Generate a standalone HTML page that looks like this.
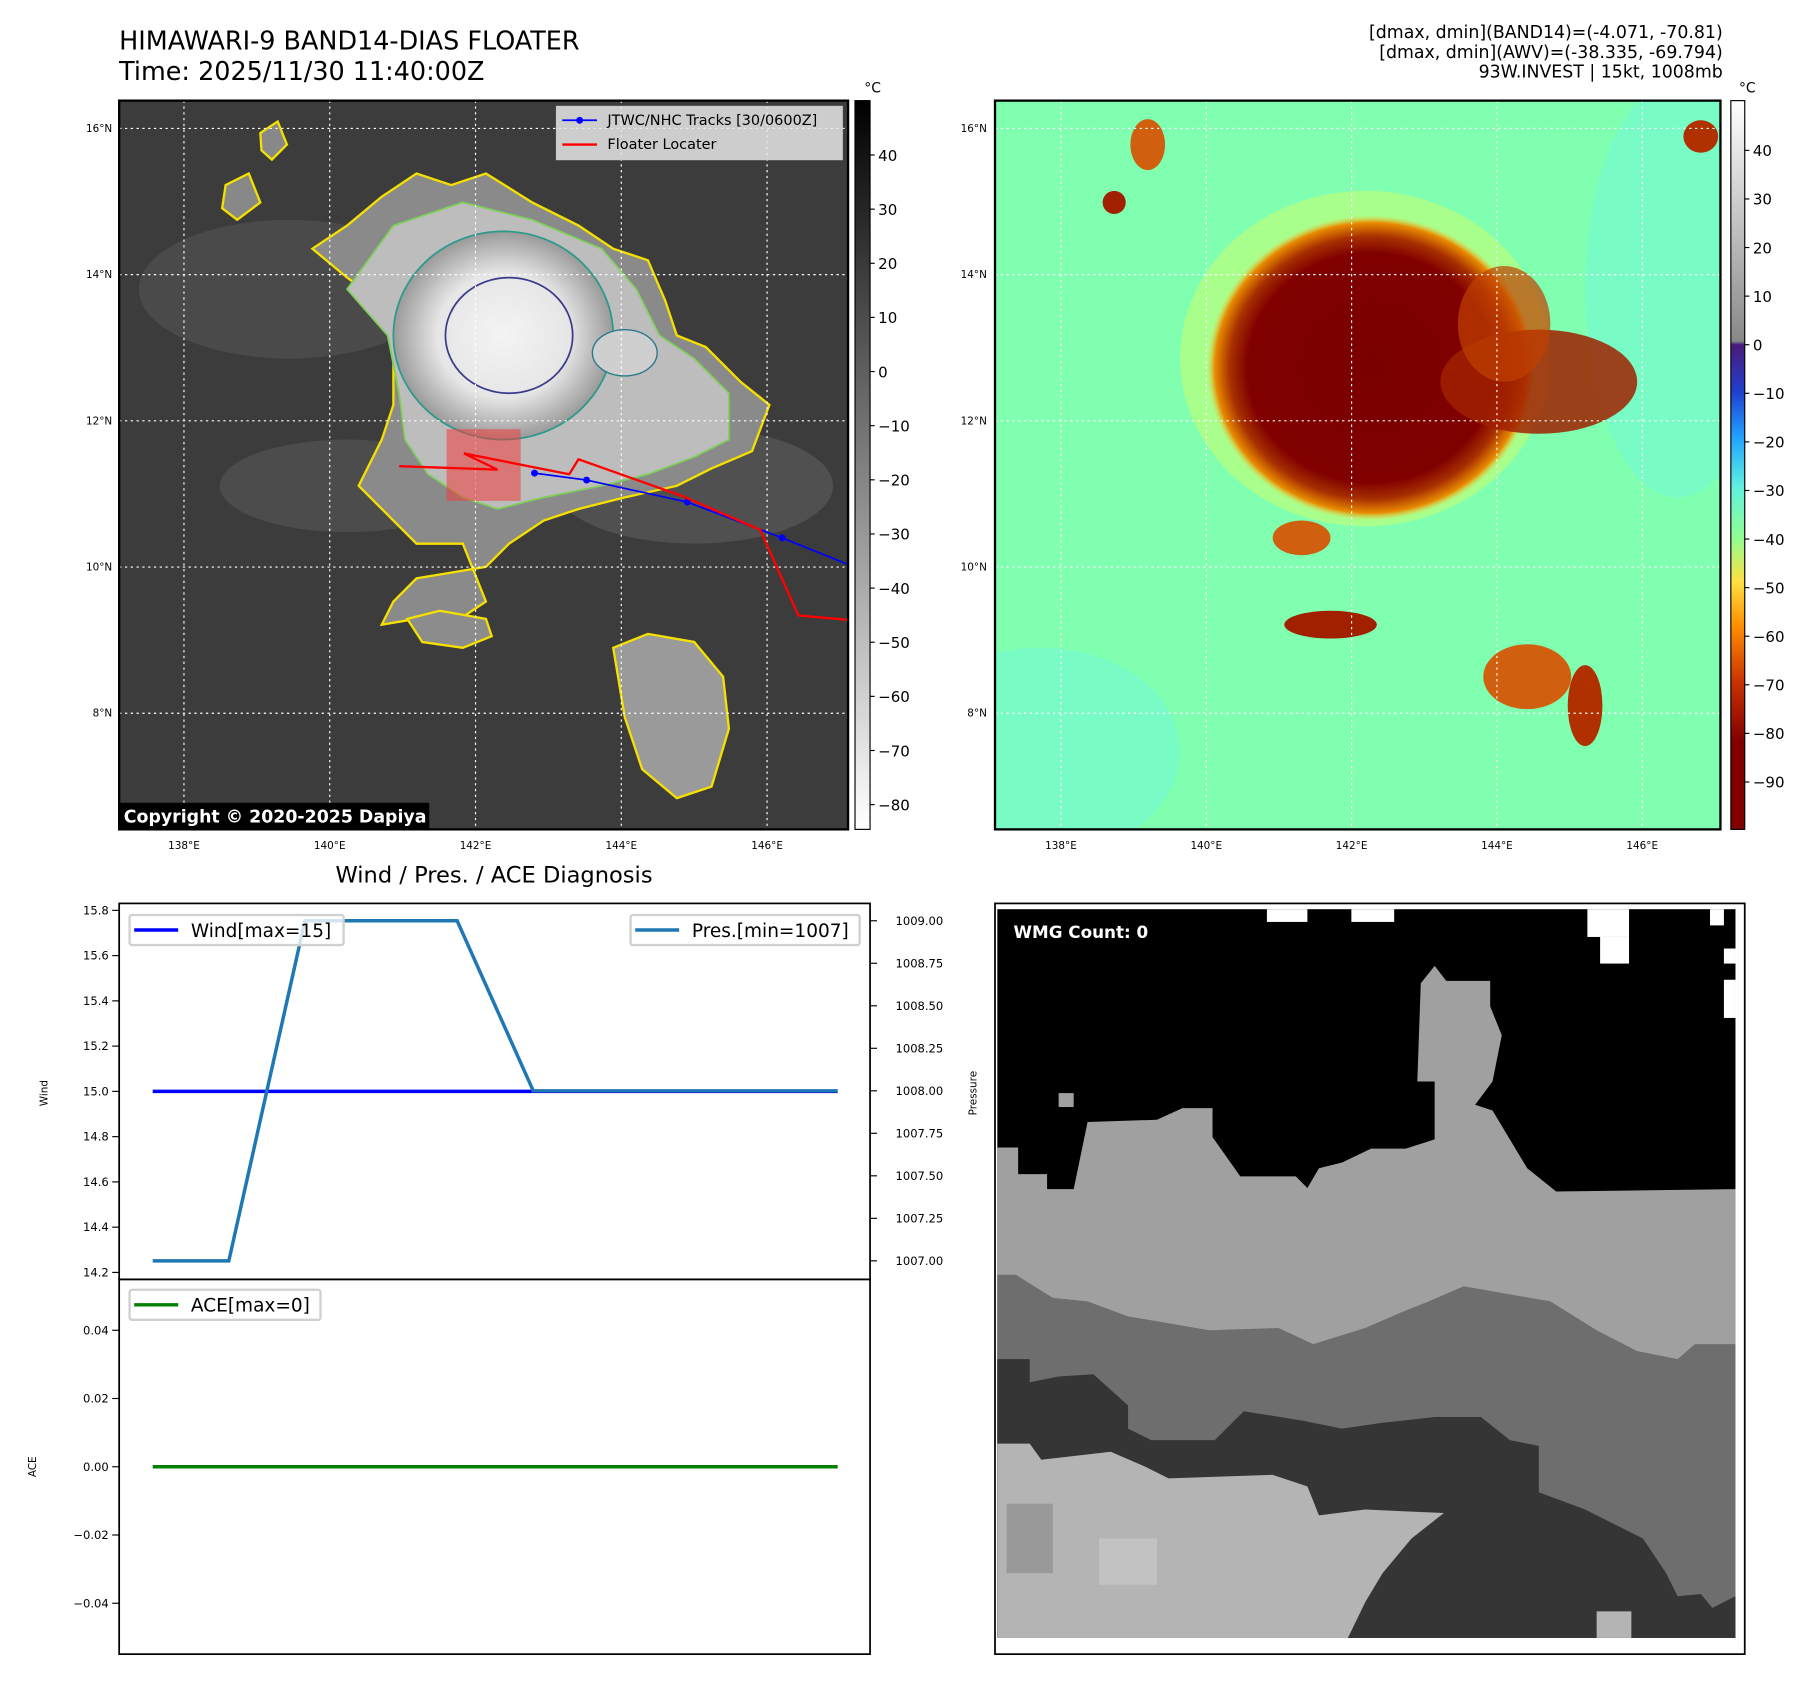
<!DOCTYPE html>
<html><head><meta charset="utf-8"><style>
html,body{margin:0;padding:0;background:#fff}
svg{display:block;font-family:"DejaVu Sans","Liberation Sans",sans-serif}
</style></head><body>
<svg id="fig" width="1813" height="1690" viewBox="0 0 1567 1461" preserveAspectRatio="none" xmlns="http://www.w3.org/2000/svg">
<defs>
<radialGradient id="core" cx="0.5" cy="0.5" r="0.5"><stop offset="0" stop-color="#f4f4f4"/><stop offset="0.6" stop-color="#e6e6e6"/><stop offset="1" stop-color="#9a9a9a"/></radialGradient>
<radialGradient id="redcore" cx="0.5" cy="0.5" r="0.5"><stop offset="0" stop-color="#7a0000"/><stop offset="0.75" stop-color="#800000"/><stop offset="0.86" stop-color="#a83000"/><stop offset="0.95" stop-color="#e88a00"/><stop offset="1" stop-color="#f0d040" stop-opacity="0"/></radialGradient>
<linearGradient id="cbGray" x1="0" y1="0" x2="0" y2="1"><stop offset="0" stop-color="#000"/><stop offset="1" stop-color="#fff"/></linearGradient>
<linearGradient id="cbAwv" x1="0" y1="0" x2="0" y2="1">
<stop offset="0" stop-color="#ffffff"/><stop offset="0.33" stop-color="#888"/><stop offset="0.335" stop-color="#4a1a7a"/><stop offset="0.4" stop-color="#2040d0"/><stop offset="0.46" stop-color="#20a0ff"/><stop offset="0.53" stop-color="#60f0e0"/><stop offset="0.6" stop-color="#90ff90"/><stop offset="0.66" stop-color="#ffe040"/><stop offset="0.72" stop-color="#ff9000"/><stop offset="0.8" stop-color="#c83000"/><stop offset="0.88" stop-color="#800000"/><stop offset="1" stop-color="#800000"/></linearGradient>
<clipPath id="clipL"><rect x="103" y="87" width="630" height="630"/></clipPath>
<clipPath id="clipR"><rect x="860" y="87" width="627" height="630"/></clipPath>
</defs>

<text x="103" y="43" font-size="22">HIMAWARI-9 BAND14-DIAS FLOATER</text>
<text x="103" y="69" font-size="22">Time: 2025/11/30 11:40:00Z</text>
<g font-size="15" text-anchor="end">
<text x="1489" y="33">[dmax, dmin](BAND14)=(-4.071, -70.81)</text>
<text x="1489" y="50">[dmax, dmin](AWV)=(-38.335, -69.794)</text>
<text x="1489" y="67">93W.INVEST | 15kt, 1008mb</text>
</g>

<!-- Left map -->
<g clip-path="url(#clipL)">
<rect x="103" y="87" width="630" height="630" fill="#3c3c3c"/>
<ellipse cx="250" cy="250" rx="130" ry="60" fill="#4a4a4a"/>
<ellipse cx="600" cy="420" rx="120" ry="50" fill="#505050"/>
<ellipse cx="300" cy="420" rx="110" ry="40" fill="#4c4c4c"/>
<polygon points="270,215 300,195 330,170 360,150 390,160 420,150 460,175 500,195 530,215 560,225 575,260 585,290 610,300 640,330 665,350 650,390 615,405 585,420 540,430 500,440 470,450 440,470 420,490 390,495 360,500 340,520 330,540 360,535 390,540 420,520 400,470 360,470 340,450 310,420 330,380 340,350 340,310 335,265 300,240" fill="#8a8a8a" stroke="#f5e000" stroke-width="2"/>
<polygon points="300,250 340,195 400,175 460,190 520,215 550,250 570,290 600,310 630,340 630,380 600,395 560,410 520,420 470,430 430,440 400,430 370,410 350,380 345,340 335,290" fill="#bdbdbd" stroke="#7fd05a" stroke-width="1.5"/>
<ellipse cx="435" cy="290" rx="95" ry="90" fill="url(#core)" stroke="#2a9a8a" stroke-width="1.5"/>
<ellipse cx="440" cy="290" rx="55" ry="50" fill="none" stroke="#3b3b8a" stroke-width="1.5"/>
<ellipse cx="540" cy="305" rx="28" ry="20" fill="#cfcfcf" stroke="#2a7a8a" stroke-width="1.2"/>
<polygon points="530,560 560,548 600,555 625,585 630,630 615,680 585,690 555,665 540,620" fill="#9a9a9a" stroke="#f5e000" stroke-width="2"/>
<polygon points="352,535 380,528 420,535 425,550 400,560 365,555" fill="#8c8c8c" stroke="#f5e000" stroke-width="2"/>
<polygon points="195,160 215,150 225,175 205,190 192,180" fill="#888" stroke="#f5e000" stroke-width="2"/>
<polygon points="225,115 240,105 248,125 235,138 226,130" fill="#888" stroke="#f5e000" stroke-width="2"/>
<g stroke="#fff" stroke-width="1" stroke-dasharray="2,3" id="gridL"></g>
<rect x="386" y="371" width="64" height="62" fill="rgba(240,60,60,0.55)"/>
<polyline points="462,409 507,415 594,434 676,465 733,488" fill="none" stroke="#0000ff" stroke-width="1.5"/>
<g fill="#0000ff"><circle cx="462" cy="409" r="3"/><circle cx="507" cy="415" r="3"/><circle cx="594" cy="434" r="3"/><circle cx="676" cy="465" r="3"/></g>
<polyline points="345,403 430,406 401,392 492,410 500,397 590,429 657,458 690,532 734,536" fill="none" stroke="#ff0000" stroke-width="2"/>
<rect x="103" y="694" width="268" height="23" fill="#000"/>
<text x="107" y="711" font-size="15" font-weight="bold" fill="#fff">Copyright © 2020-2025 Dapiya</text>
</g>
<rect x="103" y="87" width="630" height="630" fill="none" stroke="#000" stroke-width="2"/>
<g>
<rect x="481" y="92" width="247" height="46" fill="#e6e6e6" fill-opacity="0.85" stroke="#ccc"/>
<line x1="486" y1="104" x2="516" y2="104" stroke="#0000ff" stroke-width="1.5"/><circle cx="501" cy="104" r="3" fill="#0000ff"/>
<text x="525" y="108" font-size="12.5">JTWC/NHC Tracks [30/0600Z]</text>
<line x1="486" y1="125" x2="516" y2="125" stroke="#ff0000" stroke-width="2"/>
<text x="525" y="129" font-size="12.5">Floater Locater</text>
</g>
<rect x="739" y="87" width="13" height="630" fill="url(#cbGray)" stroke="#000"/>
<text x="747" y="80" font-size="12">°C</text>
<g id="cbLticks" font-size="13"></g>

<!-- Right map -->
<g clip-path="url(#clipR)">
<rect x="860" y="87" width="627" height="630" fill="#80ffb0"/>
<ellipse cx="1450" cy="250" rx="80" ry="180" fill="#70f8d8" opacity="0.5"/>
<ellipse cx="900" cy="650" rx="120" ry="90" fill="#70f8d8" opacity="0.5"/>
<ellipse cx="1180" cy="310" rx="160" ry="145" fill="#c8ff70" opacity="0.55"/>
<ellipse cx="1185" cy="318" rx="142" ry="132" fill="url(#redcore)"/>
<ellipse cx="1330" cy="330" rx="85" ry="45" fill="#a02000" opacity="0.85"/>
<ellipse cx="1300" cy="280" rx="40" ry="50" fill="#c04000" opacity="0.7"/>
<ellipse cx="1320" cy="585" rx="38" ry="28" fill="#d06010"/>
<ellipse cx="1370" cy="610" rx="15" ry="35" fill="#b03000"/>
<ellipse cx="1150" cy="540" rx="40" ry="12" fill="#a02000"/>
<ellipse cx="1125" cy="465" rx="25" ry="15" fill="#d06010"/>
<ellipse cx="992" cy="125" rx="15" ry="22" fill="#d06010"/>
<ellipse cx="963" cy="175" rx="10" ry="10" fill="#a02000"/>
<ellipse cx="1470" cy="118" rx="15" ry="14" fill="#b03000"/>
<g stroke="#fff" stroke-width="1" stroke-dasharray="2,3" id="gridR"></g>
</g>
<rect x="860" y="87" width="627" height="630" fill="none" stroke="#000" stroke-width="2"/>
<rect x="1496" y="87" width="12" height="630" fill="url(#cbAwv)" stroke="#000"/>
<text x="1503" y="80" font-size="12">°C</text>
<g id="cbRticks" font-size="13"></g>
<g id="mapTicks" font-size="9"></g>

<!-- Diagnosis chart -->
<text x="427" y="763" font-size="19.5" text-anchor="middle">Wind / Pres. / ACE Diagnosis</text>
<g id="diag"></g>
<rect x="103" y="781" width="649" height="325" fill="none" stroke="#000" stroke-width="1.5"/>
<rect x="103" y="1106" width="649" height="324" fill="none" stroke="#000" stroke-width="1.5"/>
<text transform="translate(41,945) rotate(-90)" font-size="9" text-anchor="middle">Wind</text>
<text transform="translate(844,945) rotate(-90)" font-size="9" text-anchor="middle">Pressure</text>
<text transform="translate(31,1268) rotate(-90)" font-size="9" text-anchor="middle">ACE</text>

<!-- WMG panel -->
<g>
<rect x="860" y="781" width="648" height="649" fill="#fff"/>
<rect x="862" y="786" width="638" height="630" fill="#000"/>
<polygon fill="#a0a0a0" points="862,992 880,992 880,1015 905,1015 905,1028 928,1028 940,970 1000,968 1022,958 1048,958 1048,983 1072,1017 1120,1017 1130,1027 1140,1010 1160,1005 1185,993 1215,993 1240,985 1240,935 1225,935 1228,850 1240,835 1250,848 1288,848 1288,870 1298,895 1290,935 1275,955 1290,960 1305,985 1320,1010 1345,1030 1500,1028 1500,1416 862,1416"/>
<rect x="915" y="945" width="13" height="12" fill="#a0a0a0"/>
<polygon fill="#6e6e6e" points="862,1102 878,1102 910,1122 940,1125 975,1138 1045,1150 1105,1148 1135,1162 1180,1148 1210,1135 1235,1125 1265,1112 1340,1125 1380,1150 1415,1168 1450,1175 1465,1162 1500,1162 1500,1416 862,1416"/>
<polygon fill="#353535" points="862,1175 890,1175 890,1195 915,1190 945,1188 975,1215 975,1235 995,1245 1050,1245 1075,1220 1125,1228 1160,1235 1195,1230 1240,1225 1280,1225 1305,1245 1330,1250 1330,1290 1370,1305 1400,1320 1420,1330 1440,1360 1450,1380 1470,1378 1480,1390 1500,1380 1500,1416 862,1416"/>
<polygon fill="#b4b4b4" points="862,1248 890,1248 900,1262 960,1255 990,1268 1010,1278 1100,1275 1130,1285 1140,1310 1180,1305 1248,1308 1220,1330 1195,1360 1180,1385 1165,1416 862,1416"/>
<rect x="870" y="1300" width="40" height="60" fill="#999"/><rect x="950" y="1330" width="50" height="40" fill="#c2c2c2"/>
<rect x="1380" y="1393" width="30" height="23" fill="#b4b4b4"/>
<g fill="#fff"><rect x="1095" y="786" width="35" height="11"/><rect x="1168" y="786" width="37" height="11"/><rect x="1372" y="786" width="36" height="24"/><rect x="1383" y="810" width="25" height="23"/><rect x="1478" y="786" width="12" height="14"/><rect x="1490" y="820" width="10" height="13"/><rect x="1490" y="847" width="10" height="33"/></g>
<text x="876" y="811" font-size="14.5" font-weight="bold" fill="#fff">WMG Count: 0</text>
<rect x="860" y="781" width="648" height="649" fill="none" stroke="#000" stroke-width="1.5"/>
</g>

<script>
const NS='http://www.w3.org/2000/svg';
function mk(tag,attrs,parent,txt){const e=document.createElementNS(NS,tag);for(const k in attrs)e.setAttribute(k,attrs[k]);if(txt!==undefined)e.textContent=txt;parent.appendChild(e);return e;}
// ---- data ----
const steps=[0,1,2,3,4,5,6,7,8,9];
const windValues=[15,15,15,15,15,15,15,15,15,15];
const presValues=[1007,1007,1009,1009,1009,1008,1008,1008,1008,1008];
const aceValues=[0,0,0,0,0,0,0,0,0,0];
const windTicks=[14.2,14.4,14.6,14.8,15.0,15.2,15.4,15.6,15.8];
const presTicks=[1007.00,1007.25,1007.50,1007.75,1008.00,1008.25,1008.50,1008.75,1009.00];
const aceTicks=[-0.04,-0.02,0.00,0.02,0.04];
const lonTicks=[138,140,142,144,146];
const latTicks=[16,14,12,10,8];
const irCbTicks=[40,30,20,10,0,-10,-20,-30,-40,-50,-60,-70,-80];
const awvCbTicks=[40,30,20,10,0,-10,-20,-30,-40,-50,-60,-70,-80,-90];
// ---- axes ----
const xS=i=>132+(i-0)*(724-132)/9;
const windY=v=>1100-(v-14.2)*(1100-787)/1.6;
const presY=v=>1090-(v-1007)*(1090-796)/2;
const aceY=v=>1268-v*(118/0.04);
const lonXL=l=>159+(l-138)*63, lonXR=l=>917+(l-138)*62.8;
const latY=l=>111+(16-l)*63.2;
const irCbY=v=>134+(40-v)*4.68;
const awvCbY=v=>130+(40-v)*4.2;
// grid + map ticks
const gL=document.getElementById('gridL'), gR=document.getElementById('gridR'), mt=document.getElementById('mapTicks');
lonTicks.forEach(l=>{
  mk('line',{x1:lonXL(l),y1:87,x2:lonXL(l),y2:717},gL);
  mk('line',{x1:lonXR(l),y1:87,x2:lonXR(l),y2:717},gR);
  const a=mk('text',{x:lonXL(l),y:734,'text-anchor':'middle'},mt,l+'°E');
  
  
  const b=mk('text',{x:lonXR(l),y:734,'text-anchor':'middle'},mt,l+'°E');
  
  
});
latTicks.forEach(l=>{
  mk('line',{x1:103,y1:latY(l),x2:733,y2:latY(l)},gL);
  mk('line',{x1:860,y1:latY(l),x2:1487,y2:latY(l)},gR);
  const a=mk('text',{x:97,y:latY(l)+3,'text-anchor':'end'},mt,l+'°N');
  
  
  const b=mk('text',{x:853,y:latY(l)+3,'text-anchor':'end'},mt,l+'°N');
  
  
});
const cL=document.getElementById('cbLticks');
irCbTicks.forEach(v=>{mk('line',{x1:752,y1:irCbY(v),x2:756,y2:irCbY(v),stroke:'#000'},cL);
  const t=mk('text',{x:759,y:irCbY(v)+5},cL,(v<0?'\u2212'+(-v):v));
  
  });
const cR=document.getElementById('cbRticks');
awvCbTicks.forEach(v=>{mk('line',{x1:1508,y1:awvCbY(v),x2:1512,y2:awvCbY(v),stroke:'#000'},cR);
  const t=mk('text',{x:1515,y:awvCbY(v)+5},cR,(v<0?'\u2212'+(-v):v));
  
  });
// diagnosis chart
const d=document.getElementById('diag');
windTicks.forEach(v=>{mk('line',{x1:97,y1:windY(v),x2:103,y2:windY(v),stroke:'#000'},d);
  const t=mk('text',{x:94,y:windY(v)+3.5,'text-anchor':'end','font-size':10},d,v.toFixed(1));
  
  });
presTicks.forEach(v=>{mk('line',{x1:752,y1:presY(v),x2:758,y2:presY(v),stroke:'#000'},d);
  const t=mk('text',{x:774,y:presY(v)+3.5,'font-size':10},d,v.toFixed(2));
  
  });
aceTicks.forEach(v=>{mk('line',{x1:97,y1:aceY(v),x2:103,y2:aceY(v),stroke:'#000'},d);
  const t=mk('text',{x:94,y:aceY(v)+3.5,'text-anchor':'end','font-size':10},d,(v<0?'\u2212'+(-v).toFixed(2):v.toFixed(2)));
  
  });
const wl=mk('polyline',{points:steps.map((s,i)=>xS(s)+','+windY(windValues[i])).join(' '),fill:'none',stroke:'#0000ff','stroke-width':3},d);


const pl=mk('polyline',{points:steps.map((s,i)=>xS(s)+','+presY(presValues[i])).join(' '),fill:'none',stroke:'#1f77b4','stroke-width':3},d);


const al=mk('polyline',{points:steps.map((s,i)=>xS(s)+','+aceY(aceValues[i])).join(' '),fill:'none',stroke:'#008000','stroke-width':3},d);


// legends
function legend(x,y,w,color,label,name){
  const g=mk('g',{},d);
  
  
  mk('rect',{x:x,y:y,width:w,height:26,fill:'#fff','fill-opacity':0.8,stroke:'#d0d0d0','stroke-width':2,rx:2},g);
  mk('line',{x1:x+4,y1:y+13,x2:x+42,y2:y+13,stroke:color,'stroke-width':3},g);
  mk('text',{x:x+53,y:y+19,'font-size':16},g,label);
}
legend(112,791,185,'#0000ff','Wind[max=15]','wind-legend');
legend(545,791,198,'#1f77b4','Pres.[min=1007]','pressure-legend');
legend(112,1115,165,'#008000','ACE[max=0]','ace-legend');
</script>
</svg>
</body></html>
